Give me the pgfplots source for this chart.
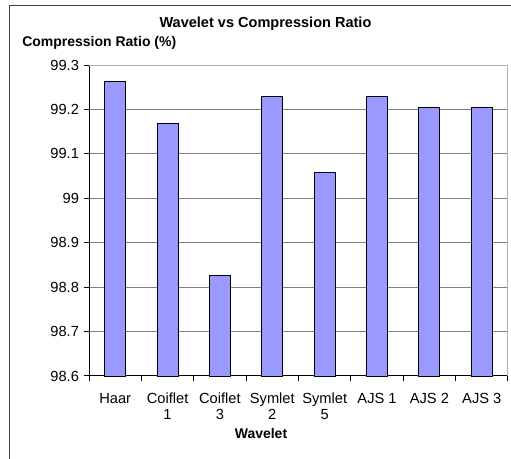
\documentclass[border=0pt]{standalone}
\usepackage{pgfplots}
\pgfplotsset{compat=1.18}
\usepackage{fontspec}
\setmainfont{Liberation Sans}
\definecolor{barfill}{HTML}{9999FF}
\definecolor{gridc}{HTML}{808080}
\definecolor{framec}{HTML}{404040}
\begin{document}
\begin{tikzpicture}
\useasboundingbox (0,0) rectangle (383.25pt,344.25pt);
\fill[white] (0,0) rectangle (383.25pt,344.25pt);
\draw[line width=0.75pt, framec] (7pt,-1pt) -- (7pt,340.2pt) -- (384pt,340.2pt);
\node[font=\fontsize{10.9}{13}\bfseries\selectfont] at (199.1pt,326.5pt) {Wavelet vs Compression Ratio};
\node[font=\fontsize{10.5}{12.6}\bfseries\selectfont, anchor=west, inner sep=0pt] at (16.5pt,312pt) {Compression Ratio (\%)};
\node[font=\fontsize{10.5}{12.6}\bfseries\selectfont] at (195.75pt,19pt) {Wavelet};
\begin{axis}[
  at={(66.75pt,62.25pt)}, anchor=south west,
  scale only axis, width=314.25pt, height=233.25pt,
  axis lines=left, axis line style={-, black, line width=0.75pt},
  xmin=-0.5, xmax=7.5, ymin=98.6, ymax=99.3,
  ytick={98.6,98.7,98.8,98.9,99,99.1,99.2,99.3},
  yticklabel style={/pgf/number format/fixed, /pgf/number format/precision=1, font=\fontsize{11}{13}\selectfont},
  /pgf/number format/assume math mode=true,
  xtick={-0.5,0.5,...,7.5},
  x tick label as interval,
  xticklabels={Haar,{Coiflet\\1},{Coiflet\\3},{Symlet\\2},{Symlet\\5},AJS 1,AJS 2,AJS 3},
  xticklabel style={align=center, text depth=0pt, yshift=-5.5pt, font=\fontsize{11}{12}\selectfont},
  tick align=outside, major tick length=4pt,
  tick style={black, line width=0.75pt},
  ymajorgrids, grid style={gridc, line width=0.75pt},
  ybar, bar width=0.4,
  clip=false,
]
\addplot[fill=barfill, draw=black, line width=0.7pt] coordinates {
 (0,99.262) (1,99.168) (2,98.827) (3,99.229) (4,99.058) (5,99.229) (6,99.205) (7,99.205)};
\draw[gray!60, line width=0.75pt] (rel axis cs:0,1) -- (rel axis cs:1,1) -- (rel axis cs:1,0);
\end{axis}
\end{tikzpicture}
\end{document}
